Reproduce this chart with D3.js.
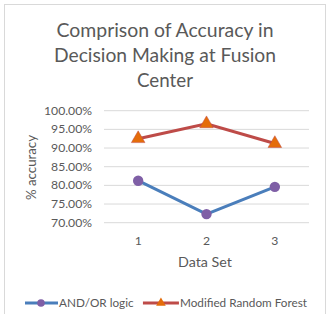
<!DOCTYPE html>
<html><head><meta charset="utf-8">
<script src="https://cdn.jsdelivr.net/npm/d3@7"></script>
<style>body{margin:0;background:#fff}svg{display:block;font-family:Lato,"Open Sans",sans-serif}</style>
</head><body><svg id="c" width="330" height="314"></svg>
<script>
const categories = ["1","2","3"];
const andOr = [0.8125, 0.723, 0.796];
const mrf = [0.925, 0.965, 0.912];
const yTicks = [0.70,0.75,0.80,0.85,0.90,0.95,1.00];
const titleLines = ["Comprison of Accuracy in","Decision Making at Fusion","Center"];
const seriesNames = ["AND/OR logic","Modified Random Forest"];

const svg = d3.select("#c");
const txt = "#595959";
function fitSize(node, target){
  const fs = parseFloat(node.getAttribute("font-size"));
  const w = node.getComputedTextLength();
  return w>0 ? fs*target/w : fs;
}
function fit(sel, target){
  sel.each(function(){ this.setAttribute("font-size", fitSize(this,target).toFixed(2)); });
  return sel;
}
svg.append("rect").attr("x",4.5).attr("y",4.5).attr("width",321).attr("height",320).attr("fill","#fff").attr("stroke","#d9d9d9");

const titleW = [217,222,56];
const titleY = [37,62,87];
titleLines.forEach((t,i)=>{
  const s = svg.append("text").attr("x",165).attr("y",titleY[i]).attr("text-anchor","middle")
    .attr("font-size",18).attr("fill",txt).text(t);
  fit(s, titleW[i]);
});

const x = d3.scalePoint().domain(categories).range([104,309]).padding(0.5);
const y = d3.scaleLinear().domain([0.70,1.00]).range([222.7,110.7]);

const g = svg.append("g");
g.selectAll("line.grid").data(yTicks).join("line").attr("x1",104).attr("x2",309)
  .attr("y1",d=>y(d)).attr("y2",d=>y(d)).attr("stroke","#d9d9d9").attr("stroke-width",1);

const fmt = d3.format(".2%");
const yt = g.selectAll("text.yt").data(yTicks).join("text").attr("x",92).attr("y",d=>y(d)+4)
  .attr("text-anchor","end").attr("font-size",11.5).attr("fill",txt).text(d=>fmt(d));
const ytSize = fitSize(yt.filter(d=>d===1).node(), 48);
yt.attr("font-size",ytSize.toFixed(2));
g.selectAll("text.xt").data(categories).join("text").attr("x",d=>x(d)).attr("y",245)
  .attr("text-anchor","middle").attr("font-size",ytSize.toFixed(2)).attr("fill",txt).text(d=>d);

fit(svg.append("text").attr("x",205).attr("y",267).attr("text-anchor","middle").attr("font-size",13).attr("fill",txt).text("Data Set"),54);
fit(svg.append("text").attr("transform","translate(36,167.5) rotate(-90)").attr("text-anchor","middle").attr("font-size",13).attr("fill",txt).text("% accuracy"),65);

const line = d3.line().x((d,i)=>x(categories[i])).y(d=>y(d));
const blue="#4a7ebb", purple="#7f5fa6", red="#be4b48", orange="#e46c0a";
g.append("path").attr("d",line(andOr)).attr("fill","none").attr("stroke",blue).attr("stroke-width",3);
g.append("path").attr("d",line(mrf)).attr("fill","none").attr("stroke",red).attr("stroke-width",3);
g.selectAll("circle.m").data(andOr).join("circle").attr("cx",(d,i)=>x(categories[i])).attr("cy",d=>y(d)).attr("r",5.2).attr("fill",purple);
const tri = d3.symbol().type(d3.symbolTriangle).size(80);
g.selectAll("path.t").data(mrf).join("path").attr("d",tri).attr("transform",(d,i)=>`translate(${x(categories[i])},${y(d)})`).attr("fill",orange).attr("stroke",red).attr("stroke-width",0.5);

// legend
const ly = 303;
const lg = svg.append("g");
lg.append("line").attr("x1",25).attr("x2",58).attr("y1",ly).attr("y2",ly).attr("stroke",blue).attr("stroke-width",3);
lg.append("circle").attr("cx",41).attr("cy",ly).attr("r",3.8).attr("fill",purple);
const t1 = lg.append("text").attr("x",59).attr("y",ly+4).attr("font-size",12).attr("fill",txt).text(seriesNames[0]);
const t2 = lg.append("text").attr("x",172).attr("y",ly+4).attr("font-size",12).attr("fill",txt).text(seriesNames[1]);
const lfs = (fitSize(t1.node(),70)+fitSize(t2.node(),135))/2;
t1.attr("font-size",lfs.toFixed(2)); t2.attr("font-size",lfs.toFixed(2));
const e1 = 59 + t1.node().getComputedTextLength();
const w2 = t2.node().getComputedTextLength();
const t2x = 307 - w2;
const r0 = Math.max(e1+4, t2x-37);
lg.append("line").attr("x1",r0).attr("x2",t2x-1).attr("y1",ly).attr("y2",ly).attr("stroke",red).attr("stroke-width",3);
lg.append("path").attr("d",d3.symbol().type(d3.symbolTriangle).size(40)).attr("transform",`translate(${(r0+t2x-1)/2},${ly})`).attr("fill",orange);
t2.attr("x",t2x);
</script></body></html>
